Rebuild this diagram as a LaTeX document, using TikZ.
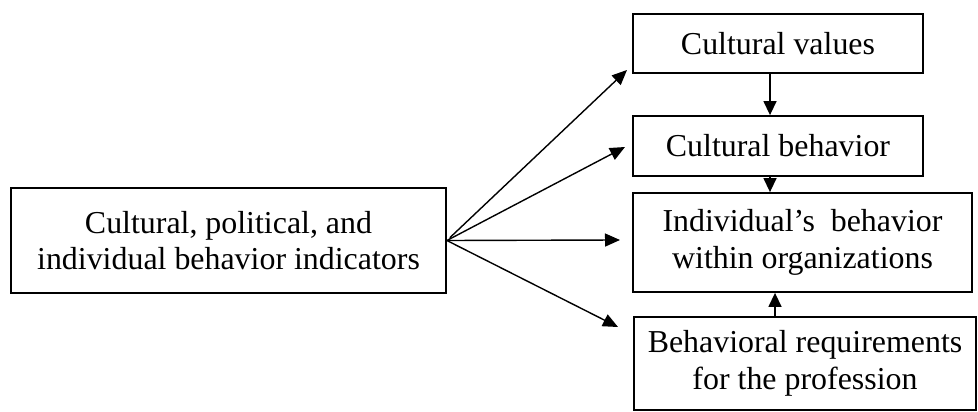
\documentclass[tikz,border=0pt]{standalone}
\usepackage{fontspec}
\setmainfont{Liberation Serif}
\usetikzlibrary{arrows.meta}
\begin{document}
\begin{tikzpicture}[x=1pt,y=-1pt,
  box/.style={draw, line width=1.8pt, inner sep=0pt, align=center,
    font=\fontsize{31.9}{36.5}\selectfont},
  arr/.style={line width=1.4pt, -{Triangle[length=15pt,width=13pt]}},
  varr/.style={line width=1.4pt, -{Triangle[length=14pt,width=13pt]}}]
\useasboundingbox (0,0) rectangle (978,412);
\node[box, minimum width=435pt, minimum height=105pt] (L) at (228.5,240.5)
  {Cultural, political, and\\individual behavior indicators};
\node[box, minimum width=290pt, minimum height=59pt] (CV) at (778,43.5) {Cultural values};
\node[box, minimum width=290pt, minimum height=60pt] (CB) at (778,146) {Cultural behavior};
\node[box, minimum width=339pt, minimum height=99pt] (IB) at (802.5,242.5)
  {Individual’s\ \ behavior\\within organizations};
\node[box, minimum width=342pt, minimum height=93pt] (BR) at (805,363.5)
  {Behavioral requirements\\for the profession};
\coordinate (e1) at (627,70);
\coordinate (e2) at (625,147);
\coordinate (e3) at (620,240);
\coordinate (e4) at (618,327);
\coordinate (v1) at (770,0);
\coordinate (v2) at (775,0);
\draw[arr, shorten <=4pt] (L.east) -- (e1);
\draw[arr] (L.east) -- (e2);
\draw[arr] (L.east) -- (e3);
\draw[arr] (L.east) -- (e4);
\draw[varr] (CV.south -| v1) -- (CB.north -| v1);
\draw[varr] (CB.south -| v1) -- (IB.north -| v1);
\draw[varr] (BR.north -| v2) -- (IB.south -| v2);
\end{tikzpicture}
\end{document}
